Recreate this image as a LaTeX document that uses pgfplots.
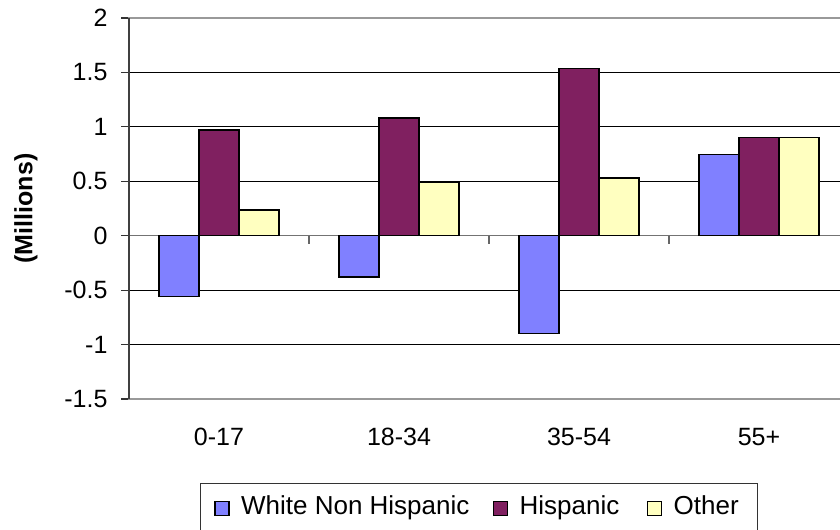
\documentclass[border=0pt]{standalone}
\usepackage{fontspec}
\setmainfont{Liberation Sans}
\usepackage{pgfplots}
\pgfplotsset{compat=1.18}
\definecolor{cWhite}{HTML}{8080FF}
\definecolor{cHisp}{HTML}{802060}
\definecolor{cOther}{HTML}{FFFFC0}
\begin{document}
\begin{tikzpicture}
\begin{axis}[
  scale only axis, width=288pt, height=152.4pt,
  at={(0pt,0pt)}, anchor=south west, clip=false,
  xmin=-0.5, xmax=3.5, ymin=-1.5, ymax=2,
  ybar=0pt, bar width=16pt,
  axis line style={draw=black!40, line width=0.5pt},
  xtick={0,1,2,3}, xticklabels={0-17,18-34,35-54,55+},
  x tick style={draw=none},
  xticklabel style={anchor=base, yshift=-15.2pt, font=\fontsize{10}{12}\selectfont},
  ytick={-1.5,-1,-0.5,0,0.5,1,1.5,2},
  yticklabels={-1.5,-1,-0.5,0,0.5,1,1.5,2},
  ytick pos=left, tick align=outside, major tick length=3.2pt,
  y tick style={black!80, line width=0.5pt},
  yticklabel style={anchor=east, xshift=-1.9pt, font=\fontsize{10}{12}\selectfont},
  ymajorgrids, grid style={black, line width=0.4pt},
  legend columns=3,
  legend style={at={(0,0)}, anchor=north west, xshift=28.4pt, yshift=-33.6pt,
    draw=black!80, line width=0.5pt, inner xsep=5.5pt, inner ysep=3pt,
    font=\fontsize{10.4}{12}\selectfont,
    /tikz/every odd column/.append style={column sep=2.5pt},
    /tikz/column 2/.append style={column sep=7.4pt},
    /tikz/column 4/.append style={column sep=9pt}},
  legend image code/.code={\draw[#1,line width=0.6pt] (0pt,-3.2pt) rectangle (5.6pt,2.4pt);},
  every axis plot/.append style={draw=black, line width=0.6pt},
]
\draw[black!55, line width=0.6pt] (axis cs:-0.5,0) -- (axis cs:3.5,0);
\addplot[fill=cWhite] coordinates {(0,-0.56) (1,-0.38) (2,-0.90) (3,0.745)};
\addplot[fill=cHisp] coordinates {(0,0.97) (1,1.08) (2,1.535) (3,0.90)};
\addplot[fill=cOther] coordinates {(0,0.235) (1,0.49) (2,0.53) (3,0.90)};
\legend{White Non Hispanic, Hispanic, Other\hspace{1.4pt}}
\draw[black!60, line width=0.5pt] (axis cs:0.5,0) -- ++(0pt,-3.2pt);
\draw[black!60, line width=0.5pt] (axis cs:1.5,0) -- ++(0pt,-3.2pt);
\draw[black!60, line width=0.5pt] (axis cs:2.5,0) -- ++(0pt,-3.2pt);
\draw[black!40, line width=0.6pt] (rel axis cs:0,1) -- (rel axis cs:1,1);
\draw[black!40, line width=0.6pt] (rel axis cs:0,0) -- (rel axis cs:1,0);
\draw[black!75, line width=0.6pt] (rel axis cs:0,0) -- (rel axis cs:0,1);
\node[rotate=90, font=\bfseries\fontsize{10}{12}\selectfont] at ([xshift=-41.2pt]rel axis cs:0,0.5) {(Millions)};
\end{axis}
\pgfresetboundingbox
\path[use as bounding box] (-51.6pt,-52pt) rectangle (284.4pt,159.6pt);
\end{tikzpicture}
\end{document}
